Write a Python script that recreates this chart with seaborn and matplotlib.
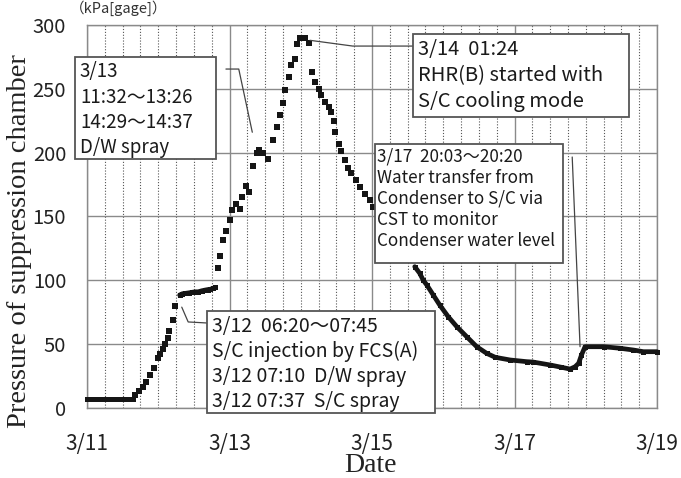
import numpy as np
import pandas as pd
import matplotlib
matplotlib.use("Agg")
import matplotlib.pyplot as plt
import seaborn as sns
from matplotlib.ticker import MultipleLocator
from matplotlib.patches import Rectangle

# -------------------------------
# Data (x = day of March, y = kPa gage)
# -------------------------------
start_day = [11.00, 11.05, 11.10, 11.15, 11.20, 11.25, 11.30, 11.35, 11.40, 11.45, 11.50, 11.55, 11.60, 11.64]
start_kpa = [7, 7, 7, 7, 7, 7, 7, 7, 7, 7, 7, 7, 7, 7]

rise_day = [11.68, 11.73, 11.79, 11.83, 11.88, 11.94, 11.99, 12.02, 12.06, 12.09, 12.13, 12.15, 12.20, 12.23]
rise_kpa = [10, 13.5, 16.7, 20, 26, 31.5, 39, 42, 46, 50.5, 54.5, 60, 69, 80]

plateau_day = [12.30, 12.34, 12.38, 12.43, 12.47, 12.52, 12.56, 12.61, 12.66, 12.70, 12.73, 12.77, 12.80]
plateau_kpa = [88.5, 89.5, 89.8, 90.2, 90.6, 91.0, 91.0, 91.8, 92.4, 92.8, 93.0, 93.8, 94.5]

climb_day = [12.84, 12.87, 12.91, 12.95, 13.00, 13.04, 13.09, 13.15, 13.17, 13.23, 13.28, 13.33,
             13.38, 13.42, 13.47, 13.54, 13.61, 13.66, 13.71, 13.75, 13.78, 13.83, 13.87, 13.92,
             13.95, 13.99, 14.06, 14.11]
climb_kpa = [110, 119, 131.5, 139, 147, 155, 160, 156, 165.5, 174, 169, 189.5,
             199.5, 202, 199.5, 195, 210, 220, 229.5, 239, 249, 259, 269, 273,
             285, 289.5, 290, 286]

decline_day = [14.16, 14.20, 14.25, 14.29, 14.34, 14.39, 14.42, 14.46, 14.48, 14.53, 14.57, 14.62,
               14.67, 14.71, 14.77, 14.83, 14.90, 14.97, 15.02]
decline_kpa = [263, 255.5, 250, 245, 240, 236, 232, 224.5, 216.5, 207, 201, 194,
               188, 184, 178.5, 173, 168, 163, 157.5]

tail_day = [15.60, 15.67, 15.72, 15.77, 15.86, 15.95, 16.07, 16.19, 16.33, 16.47, 16.61, 16.73,
            16.94, 17.17, 17.26, 17.50, 17.65, 17.78, 17.85, 17.90, 17.94, 17.99, 18.25, 18.48,
            18.67, 18.81, 19.00]
tail_kpa = [110.7, 105.5, 100, 96.3, 88.5, 80.7, 71.5, 63.7, 55.8, 48, 42.8, 39.7,
            37.6, 36.3, 36, 33.7, 32, 30.5, 32.3, 35, 41.5, 48, 48, 46.8,
            45.4, 44.1, 44.1]

tick_days = [11, 13, 15, 17, 19]
tick_labels = ["3/11", "3/13", "3/15", "3/17", "3/19"]
y_ticks = [0, 50, 100, 150, 200, 250, 300]

parts = [("start", start_day, start_kpa, True),
         ("rise", rise_day, rise_kpa, False),
         ("plateau", plateau_day, plateau_kpa, True),
         ("climb", climb_day, climb_kpa, False),
         ("decline", decline_day, decline_kpa, False),
         ("tail", tail_day, tail_kpa, True)]
df = pd.concat([pd.DataFrame({"day": d, "kpa": k, "seg": s, "dense": dn}) for s, d, k, dn in parts],
               ignore_index=True)

# -------------------------------
# Figure
# -------------------------------
sns.set_theme(style="white")
plt.rcParams["font.family"] = ["Noto Sans CJK JP", "DejaVu Sans"]

fig = plt.figure(figsize=(6.81, 4.78), dpi=100)
ax = fig.add_axes([87 / 681, 1 - 408 / 478, 570 / 681, 383 / 478])

dense = df[df["dense"]]
sparse = df[~df["dense"]]
sns.lineplot(data=dense, x="day", y="kpa", units="seg", estimator=None, color="#151515",
             lw=3.4, marker="s", markersize=3.6, markeredgewidth=0, legend=False, ax=ax,
             zorder=3, clip_on=False)
sns.scatterplot(data=sparse, x="day", y="kpa", marker="s", s=19, color="#151515",
                linewidth=0, legend=False, ax=ax, zorder=3)

ax.set_xlim(11, 19)
ax.set_ylim(0, 300)
ax.set_xticks(tick_days)
ax.set_xticklabels(tick_labels)
ax.set_yticks(y_ticks)
ax.xaxis.set_minor_locator(MultipleLocator(0.25))
ax.tick_params(axis="both", which="both", length=0)
ax.tick_params(axis="x", labelsize=15, pad=18, colors="#222")
ax.tick_params(axis="y", labelsize=14.5, pad=15, colors="#222")

ax.grid(True, which="major", color="#8a8a8a", lw=1.0, ls="-")
ax.grid(True, which="minor", axis="x", color="#555", lw=0.8, ls=(0, (1, 1.6)))
for sp in ax.spines.values():
    sp.set_color("#8a8a8a")
    sp.set_linewidth(1.0)

ax.set_xlabel("Date", family="Liberation Serif", fontsize=20, color="#222")
ax.set_ylabel("Pressure of suppression chamber", family="Liberation Serif", fontsize=20.5, color="#222")
ax.xaxis.set_label_coords(0.497, -0.118)
ax.yaxis.set_label_coords(-0.097, 0.437)
fig.text(70 / 681, 1 - 8 / 478, "（kPa[gage]）", fontsize=10.5, color="#333", va="center")

# -------------------------------
# Annotation boxes and leader lines
# -------------------------------
notes = [
    ((10.83, 195), 1.98, 80, (10.90, 271.5), 13.5, 1.27,
     "3/13\n11:32～13:26\n14:29～14:37\nD/W spray"),
    ((15.58, 228), 3.03, 65, (15.65, 289), 14.5, 1.32,
     "3/14  01:24\nRHR(B) started with\nS/C cooling mode"),
    ((15.04, 113.6), 2.64, 93.2, (15.065, 204), 12.3, 1.23,
     "3/17  20:03～20:20\nWater transfer from\nCondenser to S/C via\nCST to monitor\nCondenser water level"),
    ((12.68, -4), 3.20, 80, (12.75, 72), 14, 1.24,
     "3/12  06:20～07:45\nS/C injection by FCS(A)\n3/12 07:10  D/W spray\n3/12 07:37  S/C spray"),
]
for (x0, y0), w, h, (tx, ty), fs, lsp, txt in notes:
    ax.add_patch(Rectangle((x0, y0), w, h, facecolor="white", edgecolor="#555", lw=1.3,
                           zorder=5, clip_on=False))
    ax.text(tx, ty, txt, fontsize=fs, linespacing=lsp, va="top", ha="left", color="#1a1a1a",
            zorder=6, clip_on=False)

leaders = [
    ([12.95, 13.13, 13.32], [265.5, 265.5, 216]),
    ([14.13, 14.73, 15.58], [288, 283.5, 283.5]),
    ([17.81, 17.92], [196.6, 48]),
    ([12.33, 12.42, 12.68], [79, 67.4, 66.6]),
]
for lx, ly in leaders:
    ax.plot(lx, ly, color="#444", lw=0.9, zorder=4, clip_on=False)

fig.savefig("out.png", dpi=100)
